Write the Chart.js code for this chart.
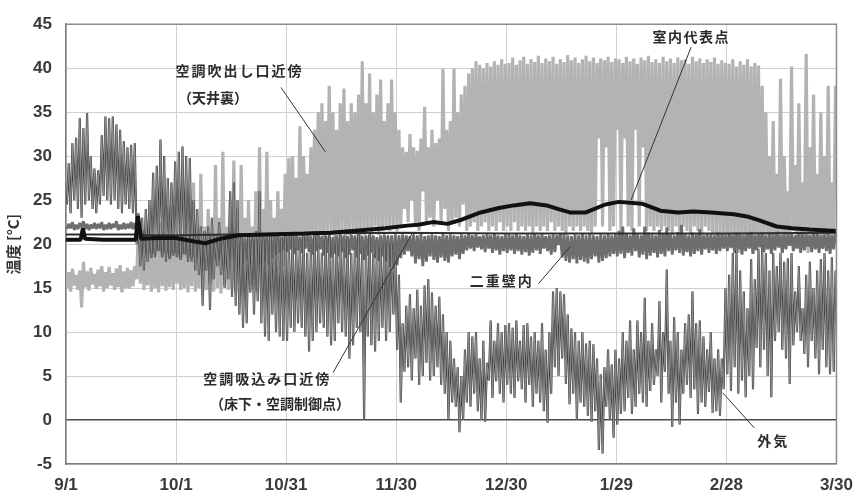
<!DOCTYPE html>
<html>
<head>
<meta charset="utf-8">
<script src="https://cdn.jsdelivr.net/npm/chart.js@4.4.1/dist/chart.umd.min.js"></script>
<style>
	html, body { margin: 0; padding: 0; background: #fff; }
	#wrap { width: 864px; height: 493px; }
</style>
</head>
<body>
<div id="wrap"><canvas id="chart" width="864" height="493"></canvas></div>
<script>
// x axis: days from 9/1, one tick every 30 days
const xLabels = ['9/1', '10/1', '10/31', '11/30', '12/30', '1/29', '2/28', '3/30'];

// 外気 : daily high / low (rows = Sep .. Mar)
const outHi = [
	29.2, 31.5, 32.1, 34.3, 33.2, 34.9, 30, 28.6, 28.4, 32.4, 34.5, 34.3, 34.5, 33.6, 33, 31.7, 31, 31.3, 31.5, 23.5, 23, 24, 25, 28.1, 28.9, 31.9, 30, 27.5, 27, 29.4,
	30.5, 31.1, 30, 29.8, 25, 24, 22, 21.5, 22, 23, 21, 22.5, 20.5, 21, 26, 27, 25, 21, 20, 21, 20.5, 21.5, 26, 21, 20.5, 21, 20, 21, 20.5, 21,
	20, 21, 19.5, 20.5, 21, 19, 20, 21.5, 20, 19, 20.5, 21, 19.5, 20, 21, 19.5, 20.5, 19, 20, 21, 19.5, 20, 21, 19, 20.5, 19.5, 20, 21, 20, 19,
	16.5, 11, 13, 14.3, 12.7, 14.8, 13, 15.3, 16, 14.5, 13, 14, 12, 10, 9, 7, 6, 5, 8, 10, 9.5, 10, 7, 9, 6.5, 11.3, 9, 11, 10, 10.8,
	11, 10.5, 11.3, 9, 10.8, 11, 9.5, 10, 9, 11, 8, 10, 14.6, 15, 14.6, 14.3, 12, 10.4, 10, 9, 10, 8.7, 9, 8.6, 7, 5.2, 6, 8, 6.3, 8,
	7, 10, 9, 11.3, 8, 11.3, 10, 13.9, 9, 11, 8, 13.5, 10, 17.1, 9, 11.7, 10, 8, 11, 12, 14.6, 11, 11.3, 9.5, 8, 10, 7, 8, 7, 15,
	16.5, 19, 19.4, 17, 14.6, 12.7, 18.3, 16, 19.4, 19.8, 19, 17, 19, 17.5, 19, 18, 18.4, 19, 14.6, 17.5, 12.7, 16.5, 18, 15, 17, 18.3, 19, 17, 18.5, 17,
];
const outLo = [
	24.5, 23.5, 25, 24, 23, 24.5, 25, 24, 23.5, 24.5, 25.5, 25, 24.5, 25, 24, 23.5, 24.5, 24, 23.5, 20, 17.5, 17, 18, 19, 18.5, 19.5, 19, 18, 18.5, 19,
	19, 18.5, 19, 18, 18.5, 17, 16.5, 13, 17, 12.5, 16, 17.5, 16.5, 15, 16, 14, 13, 12, 10.5, 11, 14.5, 12, 13.5, 11, 9.5, 9, 12, 10, 9.5, 9,
	9, 10.5, 10, 11, 10.5, 9.5, 7.8, 9, 10, 11, 10.5, 9.5, 8.5, 9, 11, 10, 9.5, 7, 8.5, 10.5, 10, 0, 9.5, 8.5, 7.8, 9, 10.5, 9, 10, 12,
	8, 2, 5.5, 6, 4.5, 7, 4, 5, 6.5, 4.5, 5, 6, 4, 3, 0.1, 2, 1.5, -1.4, 0, 2, 1.5, 3, 1, 0, -0.2, 4.5, 2.5, 4.4, 3, 2,
	4, 3, 2.5, 4.4, 3.5, 2, 4, 1.5, 3, 2, 1, -0.3, 3, 6, 5, 7, 4.1, 1.8, 3, 0, 2, 1.5, 0.5, -0.2, 1, -3.4, -3.8, 1.5, 0, -2,
	-0.5, 0.7, 1, 2.5, 0.7, 1.5, 3, 2, 1.5, 3.3, 4, 5, 2, 5.5, 3, -0.8, 2, -0.5, 3, 4, 2.5, 3.5, 0.7, 2, 1.5, 3.2, 0.8, 1, 0.5, 3.5,
	5.2, 3.3, 6, 3, 4.5, 2.6, 5, 3.5, 8.2, 6, 8, 5, 2.6, 9, 10, 8, 7, 4.1, 8.5, 10, 9, 7.5, 6, 9, 7, 5.2, 8, 6, 5.2, 5.5,
];

// 空調吹出し口近傍（天井裏） : daily high / low
const supHi = [
	16.8, 17.2, 16.5, 17, 18, 16.9, 17.3, 16.6, 17.1, 17.5, 16.8, 17.4, 16.7, 17.2, 17.6, 16.9, 17.3, 17, 17.5, 22, 21.5, 20.5, 23, 21, 20.8, 22.5, 21.5, 20.5, 23.5, 21,
	20, 21, 23, 22, 27, 21, 28, 22, 24, 21, 29, 23, 30.5, 22, 25, 29.5, 24, 29, 23, 25, 22, 26, 31, 24, 30.5, 25, 23, 26, 24, 28,
	29.8, 30, 27.5, 33.4, 30, 28, 31, 33, 35, 36, 34, 38, 35, 33, 36, 37.7, 34, 36, 35, 37, 40.8, 36, 39.4, 35, 37, 38.7, 34, 36, 38.7, 35,
	33, 31, 30.5, 32.5, 31, 30.6, 32, 35.6, 31, 33, 31.5, 32, 39.9, 33, 34, 39.9, 35, 37, 38, 39.4, 40, 40.8, 40.4, 40, 40.6, 40.2, 40.8, 40.4, 41, 40.5,
	40.6, 41.2, 40.4, 40.9, 41.3, 40.5, 41, 40.7, 41.4, 40.6, 41.1, 40.8, 41.3, 40.5, 41, 40.7, 41.5, 40.9, 41.2, 40.6, 41, 41.4, 40.8, 41.2, 40.6, 41.1, 40.9, 41.3, 40.7, 41.1,
	41, 40.6, 41.3, 40.8, 41.1, 40.5, 41.2, 40.9, 41.4, 40.7, 41, 40.6, 41.3, 40.8, 41.1, 40.6, 41.2, 40.9, 41, 40.5, 41.3, 40.8, 41.1, 40.6, 41, 40.7, 41.2, 40.5, 40.9, 40.6,
	40.5, 41, 40.2, 40.8, 40.4, 41, 40.2, 40.6, 40.3, 38, 35, 30, 34, 28, 38.8, 30, 26, 40.2, 29, 36, 27, 41.6, 31, 37, 28, 35, 30, 38, 27, 38,
];
const supLo = [
	15, 14.6, 15.3, 14.8, 12.8, 15.1, 14.7, 15.4, 14.9, 15.2, 14.6, 15, 15.3, 14.8, 15.1, 14.5, 15, 14.9, 15.2, 16, 15.5, 14.8, 15.3, 14.6, 15, 14.5, 15.2, 14.7, 15.1, 14.8,
	15.5, 14.8, 15, 14.5, 15.2, 14.6, 15, 14.3, 14.8, 15.5, 14.6, 15, 14.4, 15.2, 14.8, 15, 14.5, 14.2, 15, 14.6, 15.3, 14.8, 14.5, 15, 15.6, 16, 15.5, 16.5, 17, 17.5,
	19, 20, 19.5, 20.5, 20, 21, 20.5, 21, 20.5, 21, 20.5, 21.5, 21, 20.5, 21, 21.5, 20.5, 21, 21.5, 21, 20.5, 21, 21.5, 21, 22, 21, 21.5, 22, 21.5, 22,
	21.5, 22, 24, 22.5, 25, 22, 21.5, 26, 22.5, 23, 22, 25, 22.5, 24, 21.5, 22.5, 23, 22, 24.5, 21.5, 22, 22.5, 21.5, 22, 22.5, 21.5, 22, 21.5, 22.5, 21.5,
	22, 21.5, 22.5, 21.5, 22, 21.5, 22, 21, 22, 21.5, 22, 21.5, 22.5, 21.5, 22, 21.5, 21, 22, 21.5, 22, 21.5, 22, 21.5, 21, 22, 32, 22, 31, 21.5, 22,
	33, 21.5, 32, 22, 21.5, 33, 22, 31, 21.5, 22, 21.5, 22, 21.5, 22, 21.5, 21, 22, 21.5, 22, 21.5, 21, 22, 21.5, 21, 22, 21.5, 21, 20.5, 21, 20.5,
	20, 19.5, 20.5, 19, 20, 19.5, 20.5, 19, 20, 19.5, 20, 21, 19.5, 21, 20.5, 19, 21, 20, 21.5, 19.5, 20, 21, 19, 20.5, 21, 20, 19.5, 21, 20, 20.5,
];

// 二重壁内 : daily high / low
const wallHi = [
	22.3, 22.5, 22.2, 22.4, 22.6, 22.3, 22.2, 22.4, 22.3, 22.5, 22.2, 22.4, 22.3, 22.6, 22.2, 22.4, 22.3, 22.5, 22.4, 23, 21.5, 21, 20.8, 21, 20.7, 20.9, 21, 20.8, 20.6, 20.9,
	20.8, 21, 20.6, 20.9, 21, 20.5, 20.7, 20.4, 20.8, 21, 20.6, 20.9, 20.7, 21, 20.8, 20.6, 20.9, 21, 20.7, 20.8, 21, 20.6, 20.9, 20.8, 21, 20.7, 20.9, 21, 20.8, 20.9,
	21, 20.9, 21.1, 20.8, 21, 21.1, 20.9, 21, 21.2, 20.9, 21, 21.1, 20.8, 21, 21.2, 21, 20.9, 21.1, 21, 21.2, 20.9, 21, 21.1, 21, 20.8, 21, 21.1, 20.9, 21, 21.1,
	21, 21.1, 21, 20.9, 21.1, 21, 21.2, 20.9, 21, 21.1, 21, 20.9, 21.2, 21, 21.1, 21, 20.9, 21.1, 21, 21.2, 21, 21.1, 20.9, 21, 21.1, 21, 21.2, 21, 20.9, 21.1,
	21.1, 21, 21.2, 21, 20.9, 21.1, 21, 21.2, 21, 21.1, 20.9, 21, 21.1, 21, 21.2, 21.1, 21, 20.9, 21.1, 21, 21.2, 21, 21.1, 21, 20.9, 21.1, 21, 21.2, 21, 21.1,
	21.5, 22, 21.2, 21, 21.8, 21.1, 21, 22, 21.3, 21.1, 21, 21.6, 21.2, 21.9, 21.1, 21, 21.4, 22.2, 21.1, 21, 21.3, 21.1, 21.7, 21, 21.2, 21.1, 21, 21.3, 21.1, 21,
	21.2, 21, 21.3, 21.1, 21, 21.2, 21.4, 21, 21.1, 21.3, 21, 21.2, 21.1, 21.4, 21, 21.2, 21.1, 21.3, 21, 21.2, 21.4, 21.1, 21, 21.2, 21.3, 21, 21.1, 21.2, 21, 21.3,
];
const wallLo = [
	21.7, 21.8, 21.6, 21.7, 21.9, 21.7, 21.6, 21.8, 21.7, 21.8, 21.6, 21.7, 21.7, 21.9, 21.6, 21.7, 21.7, 21.8, 21.7, 21.5, 19, 18.6, 19, 18.4, 18.8, 19.2, 18.5, 18.9, 18.3, 18.7,
	18.5, 18.2, 18.8, 18.4, 18, 18.6, 18.3, 17.9, 18.5, 18.2, 18.7, 18.4, 18, 17.8, 18.3, 18.5, 18.1, 17.6, 17.8, 18.2, 17.5, 17.9, 18.3, 17.7, 18, 17.6, 18.4, 18.8, 19, 19.3,
	19.2, 19.4, 18.9, 19.3, 19, 19.5, 19.1, 18.8, 19.2, 19.4, 18.7, 19, 18.5, 18.9, 18.6, 19.1, 18.4, 18.8, 19.3, 18.5, 18.9, 18.2, 18.7, 19, 18.4, 18.1, 18.6, 18, 17.4, 17.2,
	17.6, 18.4, 18.8, 19.2, 18.6, 17.8, 18.3, 17.5, 18, 18.6, 18.2, 17.9, 18.5, 18.1, 17.9, 18.6, 18.8, 18.3, 18.9, 19.3, 19.5, 19.2, 19.6, 19.4, 19.1, 19.5, 19, 19.3, 18.8, 19.2,
	19, 19.3, 18.9, 19.2, 18.8, 19.1, 18.7, 19, 19.3, 18.9, 19.5, 19.2, 18.8, 19.1, 19.9, 18.5, 18.1, 17.9, 18.3, 17.8, 18.2, 18, 17.8, 18.3, 18.6, 17.9, 18.1, 18.4, 18.6, 18.9,
	18.6, 18.9, 18.4, 19, 18.7, 19.2, 18.5, 18.8, 18.3, 18.7, 19, 18.5, 18.9, 18.6, 19.2, 18.8, 19.3, 19, 18.7, 19.1, 18.6, 18.9, 19.2, 18.8, 19.4, 19, 19.3, 18.9, 19.2, 19.5,
	19.2, 19.6, 19, 19.4, 18.8, 19.2, 19.5, 18.9, 19.3, 19.7, 19.1, 19.4, 18.9, 19.3, 19.6, 19, 19.4, 19.8, 19.2, 19.5, 19, 19.3, 19.7, 19.1, 19.4, 19, 19.5, 19.2, 18.9, 19.4,
];

// 室内代表点
const roomDays = [0, 4, 4.6, 5.2, 10, 15, 19, 19.6, 20.5, 25, 30, 35, 38, 42, 47, 55, 65, 72, 78, 87, 93, 96, 100, 104, 108, 113, 118, 122, 126.5, 131, 134, 137.3, 141.7, 147, 150.7, 157, 162, 166.8, 171, 175.8, 182, 186, 189, 193.7, 198, 202.7, 210];
const roomTemps = [20.5, 20.5, 21.8, 20.6, 20.5, 20.5, 20.5, 23.2, 20.6, 20.7, 20.7, 20.3, 20.1, 20.6, 21.0, 21.1, 21.2, 21.3, 21.5, 21.8, 22.1, 22.2, 22.5, 22.3, 22.8, 23.6, 24.1, 24.4, 24.65, 24.4, 24.0, 23.6, 23.6, 24.5, 24.8, 24.6, 23.8, 23.6, 23.7, 23.6, 23.4, 23.1, 22.7, 22.0, 21.8, 21.65, 21.5];

// 空調吸込み口近傍（床下・空調制御点）
const retDays = [0, 19, 19.6, 20.5, 30, 45, 60, 90, 120, 150, 180, 210];
const retTemps = [21.1, 21.1, 23.0, 21.0, 21.0, 21.1, 21.2, 21.3, 21.2, 21.2, 21.2, 21.3];

// label positions in data units [day, °C]
const notes = [
	{ text: '空調吹出し口近傍', at: [47, 39.7], spacing: 2 },
	{ text: '（天井裏）', at: [40.1, 36.7], spacing: 0 },
	{ text: '室内代表点', at: [170.2, 43.6], spacing: 1.5 },
	{ text: '二重壁内', at: [118.5, 15.8], spacing: 2 },
	{ text: '空調吸込み口近傍', at: [54.6, 4.7], spacing: 2 },
	{ text: '（床下・空調制御点）', at: [58.3, 1.9], spacing: 0 },
	{ text: '外気', at: [192.5, -2.3], spacing: 2 },
];
const leaders = [
	[[58.6, 37.8], [70.7, 30.5]],
	[[170.4, 42.4], [154, 25.0]],
	[[128.8, 15.5], [137.4, 19.7]],
	[[72.8, 5.4], [94.6, 21.4]],
	[[179, 3.1], [187.6, -0.9]],
];

function zigzag(hi, lo) {
	const pts = [];
	hi.forEach((h, d) => {
		pts.push({ x: d + 0.25, y: lo[d] });
		pts.push({ x: d + 0.75, y: h });
	});
	return pts;
}

function pairs(days, temps) {
	return days.map((d, i) => ({ x: d, y: temps[i] }));
}

const lineBase = { pointRadius: 0, tension: 0, fill: false, borderJoinStyle: 'bevel' };

const overlay = {
	id: 'overlay',
	afterDatasetsDraw(chart) {
		const { ctx, chartArea: a, scales } = chart;
		const px = (p) => [scales.x.getPixelForValue(p[0]), scales.y.getPixelForValue(p[1])];
		ctx.save();
		// top / right frame
		ctx.strokeStyle = '#8c8c8c';
		ctx.lineWidth = 1.5;
		ctx.beginPath();
		ctx.moveTo(a.left, a.top);
		ctx.lineTo(a.right, a.top);
		ctx.lineTo(a.right, a.bottom);
		ctx.stroke();
		// leader lines
		ctx.strokeStyle = '#333';
		ctx.lineWidth = 1;
		leaders.forEach(([p, q]) => {
			const [x1, y1] = px(p);
			const [x2, y2] = px(q);
			ctx.beginPath();
			ctx.moveTo(x1, y1);
			ctx.lineTo(x2, y2);
			ctx.stroke();
		});
		// labels
		ctx.fillStyle = '#2b2b2b';
		ctx.font = 'bold 14px "Noto Sans CJK JP"';
		ctx.textAlign = 'center';
		ctx.textBaseline = 'middle';
		notes.forEach((n) => {
			const [x, y] = px(n.at);
			ctx.letterSpacing = n.spacing + 'px';
			ctx.fillText(n.text, x + n.spacing / 2, y);
		});
		ctx.restore();
	},
};

new Chart(document.getElementById('chart'), {
	type: 'line',
	data: {
		datasets: [
			{ ...lineBase, label: '室内代表点', data: pairs(roomDays, roomTemps), borderColor: '#111', borderWidth: 4 },
			{ ...lineBase, label: '空調吸込み口近傍', data: pairs(retDays, retTemps), borderColor: '#2e2e2e', borderWidth: 2 },
			{ ...lineBase, label: '外気', data: zigzag(outHi, outLo), borderColor: '#8a8a8a', borderWidth: 1.1 },
			{ ...lineBase, label: '外気 edge', data: zigzag(outHi, outLo), borderColor: '#3a3a3a', borderWidth: 2.1 },
			{ ...lineBase, label: '二重壁内', data: zigzag(wallHi, wallLo), borderColor: '#6e6e6e', borderWidth: 2.8 },
			{ ...lineBase, label: '空調吹出し口近傍', data: zigzag(supHi, supLo), borderColor: '#b3b3b3', borderWidth: 3.2 },
		],
	},
	options: {
		responsive: false,
		animation: false,
		devicePixelRatio: 1,
		parsing: false,
		normalized: true,
		layout: { padding: { top: 20, right: 17, left: 0, bottom: 0 } },
		plugins: { legend: { display: false }, tooltip: { enabled: false } },
		scales: {
			x: {
				type: 'linear',
				min: 0,
				max: 210,
				afterFit: (scale) => { scale.height = 29; },
				afterBuildTicks: (scale) => {
					scale.ticks = xLabels.map((_, i) => ({ value: i * 30 }));
				},
				ticks: {
					autoSkip: false,
					maxRotation: 0,
					padding: 11,
					color: '#3a3a3a',
					font: { family: '"Liberation Sans", Arial, sans-serif', size: 17, weight: 'bold' },
					callback: (v) => xLabels[Math.round(v / 30)],
				},
				grid: { color: '#d0d0d0', lineWidth: 1, drawTicks: false },
				border: { display: true, color: '#7c7c7c', width: 1.5 },
			},
			y: {
				min: -5,
				max: 45,
				afterFit: (scale) => { scale.width = 66; },
				ticks: {
					stepSize: 5,
					padding: 14,
					color: '#3a3a3a',
					font: { family: '"Liberation Sans", Arial, sans-serif', size: 17, weight: 'bold' },
				},
				grid: {
					drawTicks: false,
					color: (c) => (c.tick.value === 0 ? '#4a4a4a' : '#d0d0d0'),
					lineWidth: (c) => (c.tick.value === 0 ? 1.5 : 1),
				},
				border: { display: true, color: '#7c7c7c', width: 1.5 },
				title: {
					display: true,
					text: '温度 [°C]',
					color: '#333',
					padding: { top: 4, bottom: 0 },
					font: { family: '"Noto Sans CJK JP"', size: 15, weight: 'bold' },
				},
			},
		},
	},
	plugins: [overlay],
});
</script>
</body>
</html>
